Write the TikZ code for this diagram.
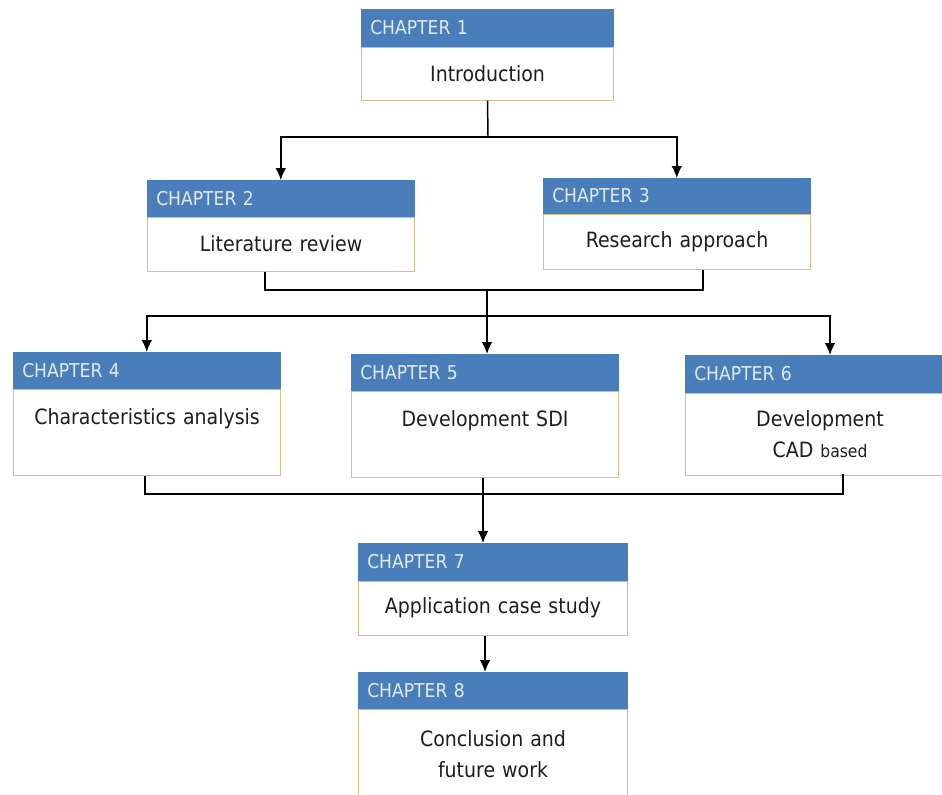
\documentclass[tikz,border=0pt]{standalone}
\usepackage{fontspec}
\setmainfont{DejaVu Sans Condensed}
\usetikzlibrary{arrows.meta,calc}
\definecolor{hdrblue}{RGB}{74,126,187}
\definecolor{hdrtext}{RGB}{225,235,248}
\definecolor{bdytan}{RGB}{214,190,145}
\definecolor{bdytext}{RGB}{30,30,30}
\newcommand\chapbox[8]{%
  \pgfmathsetmacro\chtw{(#4-18)*0.75}%
  \node[hdr, minimum width=#4*0.75pt, minimum height=#5*0.75pt, text width=\chtw pt] (#1h) at (#2,#3) {#7};
  \node[bdy, minimum width=#4*0.75pt, minimum height=#6*0.75pt, text width=\chtw pt] (#1b) at (#1h.south west) {#8};
}
\begin{document}
\begin{tikzpicture}[x=0.75pt,y=-0.75pt,
  hdr/.style={fill=hdrblue, draw=hdrblue, text=hdrtext, anchor=north west, inner xsep=7*0.75pt, inner ysep=0pt, align=left, font=\fontsize{14.3}{16}\selectfont},
  bdy/.style={fill=white, draw=bdytan, line width=0.8pt, text=bdytext, anchor=north west, inner xsep=7*0.75pt, inner ysep=0pt, align=center, font=\fontsize{15.8}{23}\selectfont},
  conn/.style={line width=1.1pt, black},
  arr/.style={conn, -{Latex[length=9pt,width=8pt]}}]
\useasboundingbox (0,0) rectangle (942,794);
\fill[white] (0,0) rectangle (942,794);
\begin{scope}
\clip (0,0) rectangle (942,794);
\chapbox{c1}{361}{9}{252}{37}{53}{CHAPTER 1}{Introduction}
\chapbox{c2}{147}{180}{267}{36}{54}{CHAPTER 2}{Literature review}
\chapbox{c3}{543}{178}{267}{35}{55}{CHAPTER 3}{Research approach}
\chapbox{c4}{13}{352}{267}{36}{86}{CHAPTER 4}{Characteristics analysis\\\mbox{}}
\chapbox{c5}{351}{354}{267}{36}{86}{CHAPTER 5}{Development SDI\\\mbox{}}
\chapbox{c6}{685}{355}{269}{37}{82}{CHAPTER 6}{Development\\CAD {\fontsize{13}{23}\selectfont based}}
\chapbox{c7}{358}{543}{269}{37}{54}{CHAPTER 7}{Application case study}
\chapbox{c8}{358}{672}{269}{36}{90}{CHAPTER 8}{Conclusion and\\future work}
\end{scope}
% connectors
\coordinate (j1) at (488,137);
\draw[conn] (c1b.south) -- (j1);
\draw[arr] (j1) -| (c2h.north);
\draw[arr] (j1) -| (c3h.north);
\coordinate (j2) at (487,290);
\draw[conn] ([xshift=-16*0.75pt]c2b.south) |- (j2) -| ([xshift=26*0.75pt]c3b.south);
\coordinate (j3) at (487,316);
\draw[arr] (j2) -- (j3) -- (j3 |- c5h.north);
\draw[arr] (j3) -| (c4h.north);
\coordinate (c6in) at (830,355);
\draw[arr] (j3) -| (c6in);
\coordinate (j4) at (483,494);
\coordinate (c6out) at (843,474);
\draw[conn] ([xshift=-2*0.75pt]c4b.south) |- (j4) -| (c6out);
\draw[arr] (c5b.south -| j4) -- (c7h.north -| j4);
\draw[arr] (c7b.south -| 485,0) -- (c8h.north -| 485,0);
\end{tikzpicture}
\end{document}
